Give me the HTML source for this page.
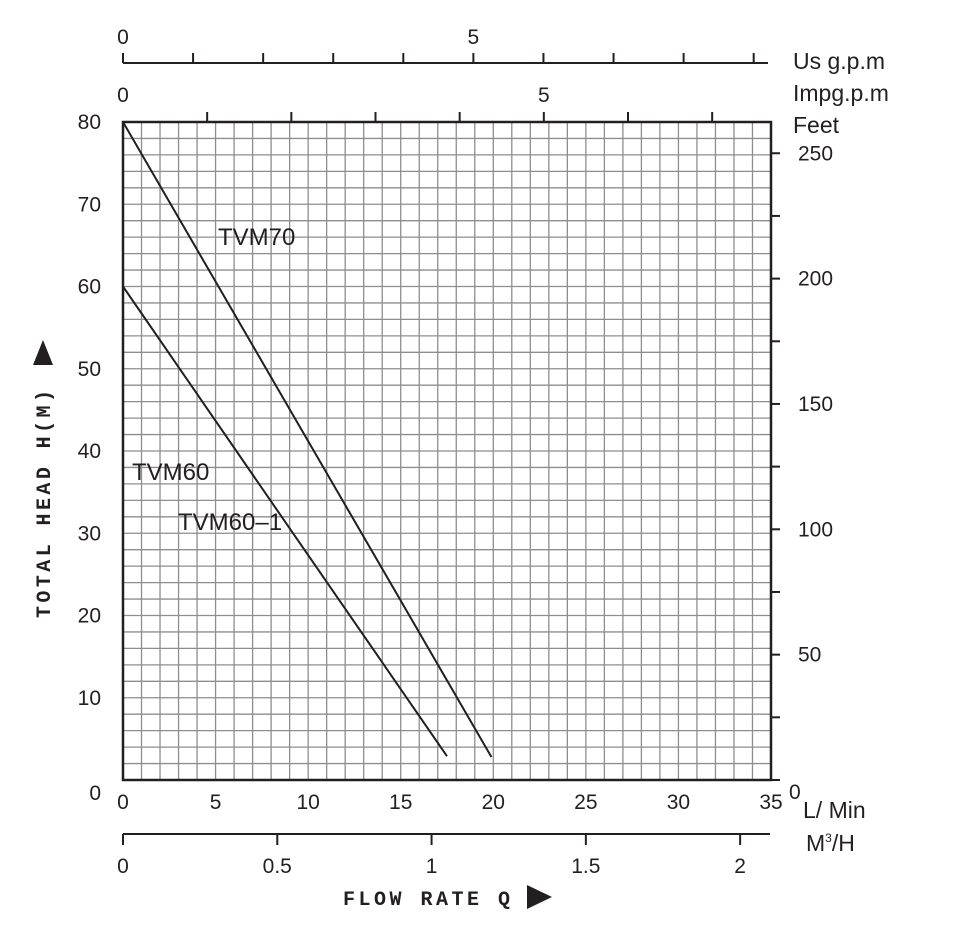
<!DOCTYPE html>
<html><head><meta charset="utf-8"><style>
body{margin:0;background:#fff}
svg{display:block}
text{fill:#231f20}
</style></head><body>
<svg id="c" width="980" height="928" viewBox="0 0 980 928" xmlns="http://www.w3.org/2000/svg"></svg>
<script>
const seriesNames=["TVM70","TVM60"];
const tvm70Flow=[0,10,19.9];
const tvm70Head=[80,41.2,2.8];
const tvm60Flow=[0,9,17.5];
const tvm60Head=[60,30.6,2.9];
const xTicks=[0,5,10,15,20,25,30,35];
const yTicks=[0,10,20,30,40,50,60,70,80];
const feetTicks=[0,50,100,150,200,250];
const m3Ticks=[0,0.5,1,1.5,2];
const usTicks=[0,5];
const impTicks=[0,5];
const labels=[{t:"TVM70",x:218,y:245},{t:"TVM60",x:132,y:480},{t:"TVM60–1",x:178,y:530}];

const L=123,R=771,T=122,B=780;
const X=v=>L+(v/35)*(R-L);
const Y=v=>B-(v/80)*(B-T);
const NS="http://www.w3.org/2000/svg";
const svg=document.getElementById('c');
const SANS='font-family:"Liberation Sans",sans-serif';
const MONO='font-family:"Liberation Mono",monospace;font-weight:bold';
function mk(tag,at,name,txt){const e=document.createElementNS(NS,tag);for(const k in at)e.setAttribute(k,at[k]);


if(tag==='text'&&!at.style)e.setAttribute('style',SANS);
if(txt!==undefined)e.textContent=txt;svg.appendChild(e);return e;}
for(let i=1;i<35;i++)mk('line',{x1:X(i),x2:X(i),y1:T,y2:B,stroke:'#8e8e8e','stroke-width':1.3},'grid-v');
for(let i=1;i<40;i++)mk('line',{x1:L,x2:R,y1:Y(i*2),y2:Y(i*2),stroke:'#8e8e8e','stroke-width':1.3},'grid-h');
mk('rect',{x:L,y:T,width:R-L,height:B-T,fill:'none',stroke:'#231f20','stroke-width':2.5},'plot-frame');
yTicks.forEach(v=>mk('text',{x:101,y:(v===0?B+20:Y(v)+7),'text-anchor':'end','font-size':21},'y-tick-label',v));
xTicks.forEach(v=>mk('text',{x:X(v),y:809,'text-anchor':'middle','font-size':21},'x-tick-label',v));
const fpx=0.3048*(B-T)/80;
for(let f=0;f<=250;f+=25)mk('line',{x1:R,x2:R+9,y1:B-f*fpx,y2:B-f*fpx,stroke:'#231f20','stroke-width':2},'feet-tick');
feetTicks.forEach(v=>mk('text',{x:v===0?789:798,y:(v===0?B+19:B-v*fpx+7),'font-size':21},'feet-tick-label',v));
const mpx=(1000/60)*(R-L)/35;
mk('line',{x1:L,x2:770,y1:834,y2:834,stroke:'#231f20','stroke-width':2},'m3h-axis');
for(let m=0;m<=2;m+=0.5)mk('line',{x1:L+m*mpx,x2:L+m*mpx,y1:834,y2:845,stroke:'#231f20','stroke-width':2},'m3h-tick');
m3Ticks.forEach(v=>mk('text',{x:L+v*mpx,y:873,'text-anchor':'middle','font-size':21},'m3h-tick-label',v));
const upx=3.785*(R-L)/35;
mk('line',{x1:L,x2:768,y1:63,y2:63,stroke:'#231f20','stroke-width':2},'usgpm-axis');
for(let g=0;g*upx<=650;g++)mk('line',{x1:L+g*upx,x2:L+g*upx,y1:53,y2:63,stroke:'#231f20','stroke-width':2},'usgpm-tick');
usTicks.forEach(v=>mk('text',{x:L+v*upx,y:44,'text-anchor':'middle','font-size':21},'usgpm-tick-label',v));
const ipx=4.546*(R-L)/35;
for(let g=1;g*ipx<R-L;g++)mk('line',{x1:L+g*ipx,x2:L+g*ipx,y1:T-10,y2:T,stroke:'#231f20','stroke-width':2},'impgpm-tick');
impTicks.forEach(v=>mk('text',{x:L+v*ipx,y:102,'text-anchor':'middle','font-size':21},'impgpm-tick-label',v));
mk('text',{x:793,y:69,'font-size':23},'usgpm-unit','Us g.p.m');
mk('text',{x:793,y:101,'font-size':23},'impgpm-unit','Impg.p.m');
mk('text',{x:793,y:133,'font-size':23},'feet-unit','Feet');
mk('text',{x:803,y:818,'font-size':23},'lmin-unit','L/ Min');
const mt=mk('text',{x:806,y:851,'font-size':23},'m3h-unit','M');
const sp=document.createElementNS(NS,'tspan');sp.setAttribute('font-size',12);sp.setAttribute('dy',-9);sp.textContent='3';mt.appendChild(sp);
const sp2=document.createElementNS(NS,'tspan');sp2.setAttribute('dy',9);sp2.textContent='/H';mt.appendChild(sp2);
mk('text',{x:343,y:905,'font-size':20,style:MONO,textLength:167,lengthAdjust:'spacing'},'x-axis-title','FLOW RATE Q');
mk('polygon',{points:'527,885 552,897 527,909',fill:'#231f20'},'x-axis-arrow');
mk('text',{x:0,y:0,'font-size':20,style:MONO,textLength:228,lengthAdjust:'spacing',transform:'translate(50,618) rotate(-90)'},'y-axis-title','TOTAL HEAD H(M)');
mk('polygon',{points:'33,365 43,340 53,365',fill:'#231f20'},'y-axis-arrow');
function line(fx,hy,name){mk('polyline',{points:fx.map((f,i)=>X(f)+','+Y(hy[i])).join(' '),fill:'none',stroke:'#231f20','stroke-width':2},name);}
line(tvm70Flow,tvm70Head,'curve-tvm70');
line(tvm60Flow,tvm60Head,'curve-tvm60');
labels.forEach(l=>mk('text',{x:l.x,y:l.y,'font-size':24},'curve-label',l.t));
</script>
</body></html>
